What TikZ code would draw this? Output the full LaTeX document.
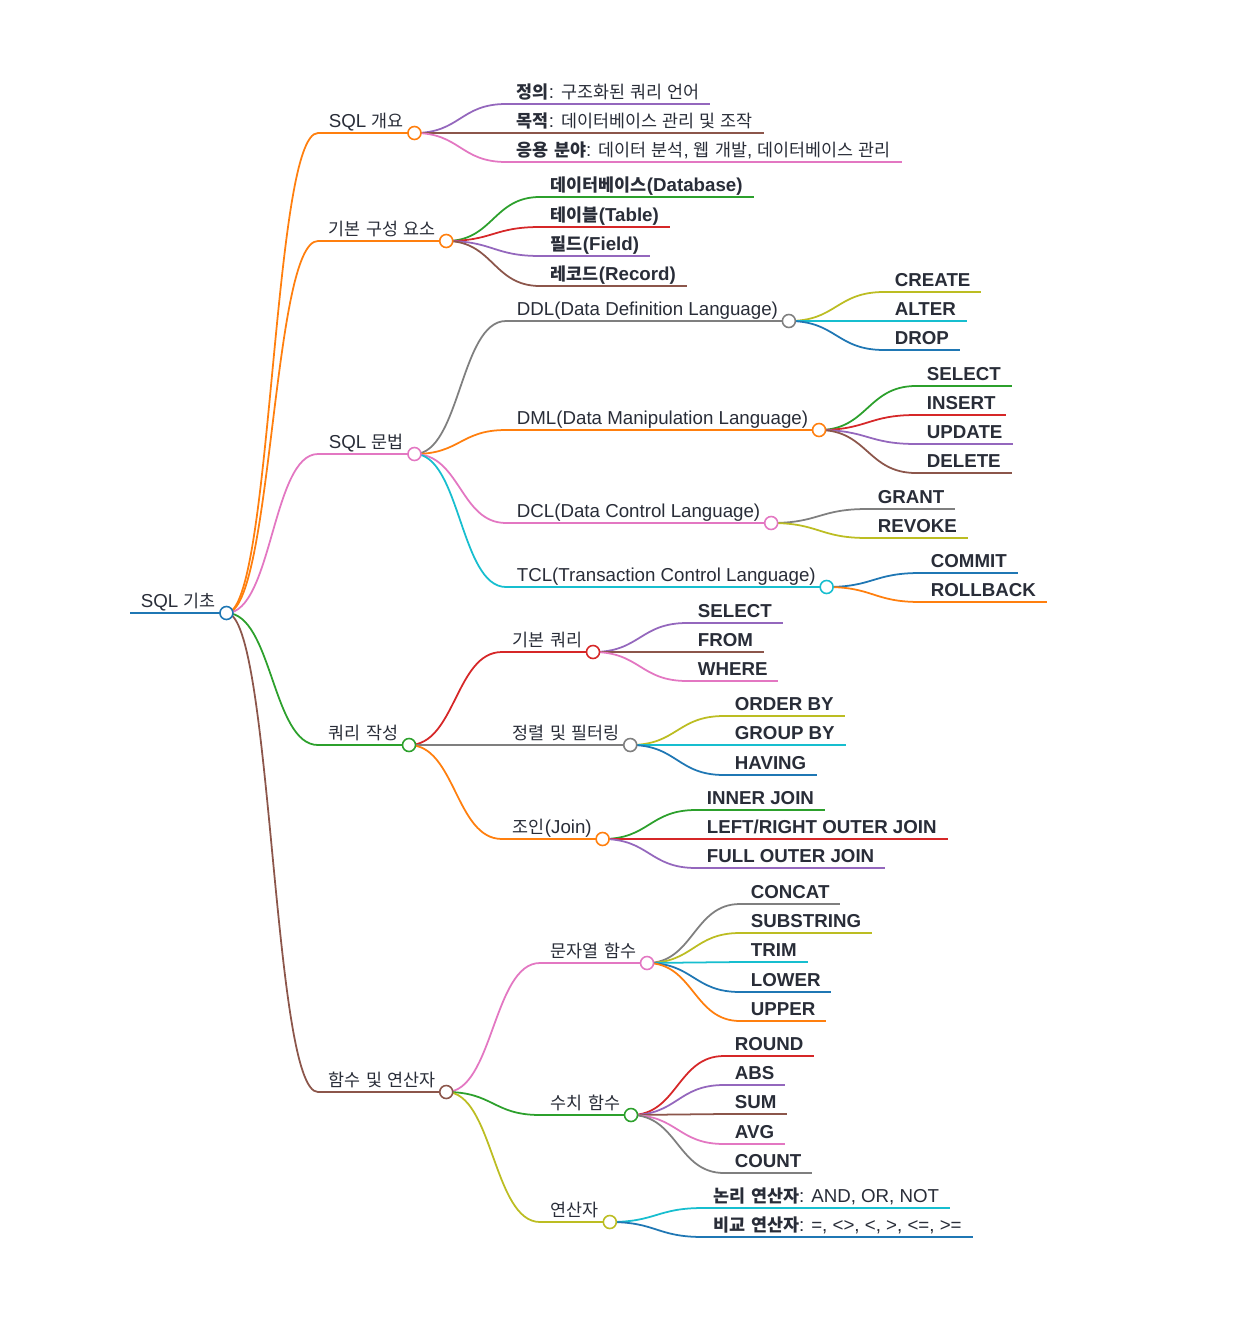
\documentclass[tikz,border=0pt]{standalone}
\usepackage{fontspec}
\setmainfont{Liberation Sans}
\newfontfamily\krfont{Noto Sans CJK KR}[Scale=0.93]
\usepackage{tikz}
\usetikzlibrary{calc}
\definecolor{ink}{RGB}{41,45,56}
\definecolor{cblue}{HTML}{1F77B4}
\definecolor{corange}{HTML}{FF7F0E}
\definecolor{cgreen}{HTML}{2CA02C}
\definecolor{cred}{HTML}{D62728}
\definecolor{cpurple}{HTML}{9467BD}
\definecolor{cbrown}{HTML}{8C564B}
\definecolor{cpink}{HTML}{E377C2}
\definecolor{cgray}{HTML}{7F7F7F}
\definecolor{colive}{HTML}{BCBD22}
\definecolor{ccyan}{HTML}{17BECF}
% hangul syllables are set in the korean font
\XeTeXinterchartokenstate=1
\newXeTeXintercharclass\hangulclass
\newcount\hcode
\hcode="AC00
\loop\ifnum\hcode<"D7A4
  \XeTeXcharclass\hcode=\hangulclass
  \advance\hcode by 1
\repeat
\XeTeXinterchartoks 0 \hangulclass = {\krfont}
\XeTeXinterchartoks 4095 \hangulclass = {\krfont}
\XeTeXinterchartoks \hangulclass 0 = {\rmfamily}
\XeTeXinterchartoks \hangulclass 4095 = {\rmfamily}

\begin{document}
\begin{tikzpicture}[x=0.02cm, y=-0.02cm,
  topic/.style={anchor=south west, inner xsep=6pt, inner ysep=2.8pt, text depth=0pt,
                font=\fontsize{10.65}{12}\selectfont, text=ink,
                append after command={(\tikzlastnode.south west) edge[draw=#1, line width=1pt] (\tikzlastnode.south east)}},
  kw/.style={topic=#1, font=\fontsize{10.65}{12}\selectfont\bfseries},
  dot/.style={circle, draw=#1, fill=white, line width=0.9pt, inner sep=0pt, minimum size=0.26cm},
  link/.style={draw=#1, line width=1pt,
               to path={let \p1=(\tikztostart), \p2=(\tikztotarget) in
                 .. controls ({(\x1+\x2)/2},\y1) and ({(\x1+\x2)/2},\y2) .. (\tikztotarget)}}
]
  \fill[white] (0,0) rectangle (1250,1328);
  \useasboundingbox (0,0) rectangle (1250,1328);

  % root and first level
  \node[topic=cblue] (root) at (130,613) {SQL 기초};
  \node[topic=corange] (ov) at (318,133) {SQL 개요};
  \node[topic=corange] (comp) at (318,241) {기본 구성 요소};
  \node[topic=cpink] (syn) at (318,454) {SQL 문법};
  \node[topic=cgreen] (qry) at (318,745) {쿼리 작성};
  \node[topic=cbrown] (fn) at (318,1092) {함수 및 연산자};

  % SQL 개요
  \node[topic=cpurple] (def) at (506,104) {\textbf{정의}: 구조화된 쿼리 언어};
  \node[topic=cbrown] (pur) at (506,133) {\textbf{목적}: 데이터베이스 관리 및 조작};
  \node[topic=cpink] (app) at (506,162) {\textbf{응용 분야}: 데이터 분석, 웹 개발, 데이터베이스 관리};

  % 기본 구성 요소
  \node[kw=cgreen] (db) at (540,197) {데이터베이스(Database)};
  \node[kw=cred] (tbl) at (540,227) {테이블(Table)};
  \node[kw=cpurple] (fld) at (540,256) {필드(Field)};
  \node[kw=cbrown] (rec) at (540,286) {레코드(Record)};

  % SQL 문법
  \node[topic=cgray] (ddl) at (506,321) {DDL(Data Definition Language)};
  \node[topic=corange] (dml) at (506,430) {DML(Data Manipulation Language)};
  \node[topic=cpink] (dcl) at (506,523) {DCL(Data Control Language)};
  \node[topic=ccyan] (tcl) at (506,587) {TCL(Transaction Control Language)};

  \node[kw=colive] (create) at (884,292) {CREATE};
  \node[kw=ccyan] (alter) at (884,321) {ALTER};
  \node[kw=cblue] (drop) at (884,350) {DROP};

  \node[kw=cgreen] (dsel) at (916,386) {SELECT};
  \node[kw=cred] (dins) at (916,415) {INSERT};
  \node[kw=cpurple] (dupd) at (916,444) {UPDATE};
  \node[kw=cbrown] (ddel) at (916,473) {DELETE};

  \node[kw=cgray] (grant) at (867,509) {GRANT};
  \node[kw=colive] (revoke) at (867,538) {REVOKE};

  \node[kw=cblue] (commit) at (920,573) {COMMIT};
  \node[kw=corange] (rollback) at (920,602) {ROLLBACK};

  % 쿼리 작성
  \node[topic=cred] (bq) at (502,652) {기본 쿼리};
  \node[topic=cgray] (srt) at (502,745) {정렬 및 필터링};
  \node[topic=corange] (jn) at (502,839) {조인(Join)};

  \node[kw=cpurple] (qsel) at (687,623) {SELECT};
  \node[kw=cbrown] (qfrom) at (687,652) {FROM};
  \node[kw=cpink] (qwhere) at (687,681) {WHERE};

  \node[kw=colive] (order) at (724,716) {ORDER BY};
  \node[kw=ccyan] (group) at (724,745) {GROUP BY};
  \node[kw=cblue] (having) at (724,775) {HAVING};

  \node[kw=cgreen] (inner) at (696,810) {INNER JOIN};
  \node[kw=cred] (outer) at (696,839) {LEFT/RIGHT OUTER JOIN};
  \node[kw=cpurple] (full) at (696,868) {FULL OUTER JOIN};

  % 함수 및 연산자
  \node[topic=cpink] (strf) at (540,963) {문자열 함수};
  \node[topic=cgreen] (numf) at (540,1115) {수치 함수};
  \node[topic=colive] (op) at (540,1222) {연산자};

  \node[kw=cgray] (concat) at (740,904) {CONCAT};
  \node[kw=colive] (substr) at (740,933) {SUBSTRING};
  \node[kw=ccyan] (trim) at (740,962) {TRIM};
  \node[kw=cblue] (lower) at (740,992) {LOWER};
  \node[kw=corange] (upper) at (740,1021) {UPPER};

  \node[kw=cred] (round) at (724,1056) {ROUND};
  \node[kw=cpurple] (abs) at (724,1085) {ABS};
  \node[kw=cbrown] (sum) at (724,1114) {SUM};
  \node[kw=cpink] (avg) at (724,1144) {AVG};
  \node[kw=cgray] (count) at (724,1173) {COUNT};

  \node[topic=ccyan] (logic) at (703,1208) {\textbf{논리 연산자}: AND, OR, NOT};
  \node[topic=cblue] (cmp) at (703,1237) {\textbf{비교 연산자}: =, <>, <, >, <=, >=};

  % links
  \path (root.south east) edge[link=corange] (ov.south west)
                          edge[link=corange] (comp.south west)
                          edge[link=cpink] (syn.south west)
                          edge[link=cgreen] (qry.south west)
                          edge[link=cbrown] (fn.south west);
  \path (ov.south east) edge[link=cpurple] (def.south west)
                        edge[link=cbrown] (pur.south west)
                        edge[link=cpink] (app.south west);
  \path (comp.south east) edge[link=cgreen] (db.south west)
                          edge[link=cred] (tbl.south west)
                          edge[link=cpurple] (fld.south west)
                          edge[link=cbrown] (rec.south west);
  \path (syn.south east) edge[link=cgray] (ddl.south west)
                         edge[link=corange] (dml.south west)
                         edge[link=cpink] (dcl.south west)
                         edge[link=ccyan] (tcl.south west);
  \path (ddl.south east) edge[link=colive] (create.south west)
                         edge[link=ccyan] (alter.south west)
                         edge[link=cblue] (drop.south west);
  \path (dml.south east) edge[link=cgreen] (dsel.south west)
                         edge[link=cred] (dins.south west)
                         edge[link=cpurple] (dupd.south west)
                         edge[link=cbrown] (ddel.south west);
  \path (dcl.south east) edge[link=cgray] (grant.south west)
                         edge[link=colive] (revoke.south west);
  \path (tcl.south east) edge[link=cblue] (commit.south west)
                         edge[link=corange] (rollback.south west);
  \path (qry.south east) edge[link=cred] (bq.south west)
                         edge[link=cgray] (srt.south west)
                         edge[link=corange] (jn.south west);
  \path (bq.south east) edge[link=cpurple] (qsel.south west)
                        edge[link=cbrown] (qfrom.south west)
                        edge[link=cpink] (qwhere.south west);
  \path (srt.south east) edge[link=colive] (order.south west)
                         edge[link=ccyan] (group.south west)
                         edge[link=cblue] (having.south west);
  \path (jn.south east) edge[link=cgreen] (inner.south west)
                        edge[link=cred] (outer.south west)
                        edge[link=cpurple] (full.south west);
  \path (fn.south east) edge[link=cpink] (strf.south west)
                        edge[link=cgreen] (numf.south west)
                        edge[link=colive] (op.south west);
  \path (strf.south east) edge[link=cgray] (concat.south west)
                          edge[link=colive] (substr.south west)
                          edge[link=ccyan] (trim.south west)
                          edge[link=cblue] (lower.south west)
                          edge[link=corange] (upper.south west);
  \path (numf.south east) edge[link=cred] (round.south west)
                          edge[link=cpurple] (abs.south west)
                          edge[link=cbrown] (sum.south west)
                          edge[link=cpink] (avg.south west)
                          edge[link=cgray] (count.south west);
  \path (op.south east) edge[link=ccyan] (logic.south west)
                        edge[link=cblue] (cmp.south west);

  % circles on the branch points
  \node[dot=cblue] (rootdot) at (root.south east) {};
  \node[dot=corange] (ovdot) at (ov.south east) {};
  \node[dot=corange] (compdot) at (comp.south east) {};
  \node[dot=cpink] (syndot) at (syn.south east) {};
  \node[dot=cgreen] (qrydot) at (qry.south east) {};
  \node[dot=cbrown] (fndot) at (fn.south east) {};
  \node[dot=cgray] (ddldot) at (ddl.south east) {};
  \node[dot=corange] (dmldot) at (dml.south east) {};
  \node[dot=cpink] (dcldot) at (dcl.south east) {};
  \node[dot=ccyan] (tcldot) at (tcl.south east) {};
  \node[dot=cred] (bqdot) at (bq.south east) {};
  \node[dot=cgray] (srtdot) at (srt.south east) {};
  \node[dot=corange] (jndot) at (jn.south east) {};
  \node[dot=cpink] (strfdot) at (strf.south east) {};
  \node[dot=cgreen] (numfdot) at (numf.south east) {};
  \node[dot=colive] (opdot) at (op.south east) {};
\end{tikzpicture}
\end{document}
